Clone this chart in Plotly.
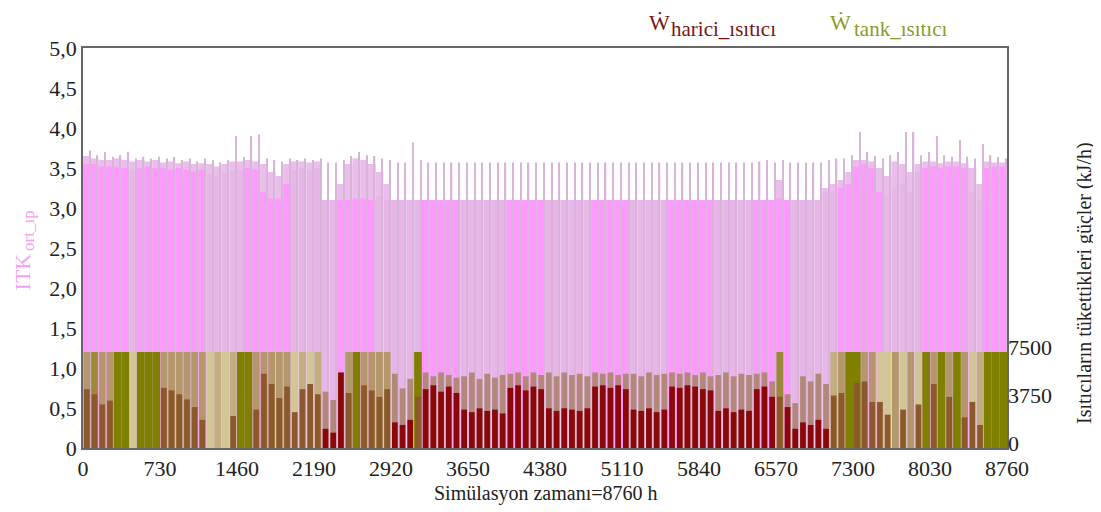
import plotly.graph_objects as go

# ---------------- data: one value per 73-hour bin (120 bins = 8760 h) ----------------
bin_hours = 73
time_bins = list(range(0, 8760, bin_hours))

x_tick_vals = [0, 730, 1460, 2190, 2920, 3650, 4380, 5110, 5840, 6570, 7300, 8030, 8760]
y_tick_vals = [0, 0.5, 1.0, 1.5, 2.0, 2.5, 3.0, 3.5, 4.0, 4.5, 5.0]
y_tick_text = ["0", "0,5", "1,0", "1,5", "2,0", "2,5", "3,0", "3,5", "4,0", "4,5", "5,0"]
y2_tick_vals = [0, 3750, 7500]

# ITK_ort_ip (COP) : solid level, ragged light envelope, thin peaks, share of running hours
cop_base = [
    3.55, 3.55, 3.52, 3.52, 3.52, 3.50, 3.48, 3.50, 3.52, 3.50,
    3.50, 3.48, 3.50, 3.48, 3.46, 3.48, 3.42, 3.40, 3.44, 3.46,
    3.48, 3.50, 3.48, 3.20, 3.12, 3.12, 3.30, 3.48, 3.50, 3.48,
    3.50, 3.10, 3.10, 3.10, 3.10, 3.12, 3.12, 3.10, 3.15, 3.10,
    3.10, 3.10, 3.10, 3.10, 3.10, 3.10, 3.10, 3.10, 3.10, 3.10,
    3.10, 3.10, 3.10, 3.10, 3.10, 3.10, 3.10, 3.10, 3.10, 3.10,
    3.10, 3.10, 3.10, 3.10, 3.10, 3.10, 3.10, 3.10, 3.10, 3.10,
    3.10, 3.10, 3.10, 3.10, 3.10, 3.10, 3.10, 3.10, 3.10, 3.10,
    3.10, 3.10, 3.10, 3.10, 3.10, 3.10, 3.10, 3.10, 3.10, 3.10,
    3.12, 3.10, 3.10, 3.10, 3.10, 3.10, 3.20, 3.22, 3.25, 3.30,
    3.52, 3.55, 3.50, 3.20, 3.15, 3.25, 3.30, 3.20, 3.45, 3.50,
    3.52, 3.50, 3.52, 3.52, 3.50, 3.20, 3.10, 3.50, 3.52, 3.52,
]
cop_cap = [
    3.65, 3.62, 3.60, 3.60, 3.62, 3.60, 3.58, 3.60, 3.58, 3.60,
    3.57, 3.58, 3.56, 3.58, 3.55, 3.56, 3.55, 3.52, 3.55, 3.58,
    3.58, 3.60, 3.58, 3.55, 3.45, 3.40, 3.55, 3.58, 3.58, 3.57,
    3.58, 3.10, 3.10, 3.30, 3.55, 3.62, 3.60, 3.55, 3.45, 3.30,
    3.10, 3.10, 3.10, 3.10, 3.10, 3.10, 3.10, 3.10, 3.10, 3.10,
    3.10, 3.10, 3.10, 3.10, 3.10, 3.10, 3.10, 3.10, 3.10, 3.10,
    3.10, 3.10, 3.10, 3.10, 3.10, 3.10, 3.10, 3.10, 3.10, 3.10,
    3.10, 3.10, 3.10, 3.10, 3.10, 3.10, 3.10, 3.10, 3.10, 3.10,
    3.10, 3.10, 3.10, 3.10, 3.10, 3.10, 3.10, 3.10, 3.10, 3.10,
    3.35, 3.10, 3.10, 3.10, 3.10, 3.10, 3.25, 3.30, 3.35, 3.45,
    3.60, 3.60, 3.58, 3.50, 3.40, 3.58, 3.55, 3.45, 3.55, 3.58,
    3.58, 3.56, 3.58, 3.58, 3.56, 3.50, 3.30, 3.58, 3.57, 3.57,
]
cop_spike = [
    3.72, 3.66, 3.70, 3.64, 3.66, 3.70, 3.62, 3.64, 3.62, 3.64,
    3.62, 3.64, 3.60, 3.62, 3.58, 3.62, 3.60, 3.57, 3.60, 3.90,
    3.64, 3.90, 3.92, 3.62, 3.60, 3.58, 3.62, 3.60, 3.62, 3.60,
    3.62, 3.57, 3.57, 3.60, 3.65, 3.70, 3.66, 3.65, 3.62, 3.60,
    3.57, 3.57, 3.82, 3.60, 3.57, 3.57, 3.57, 3.57, 3.57, 3.57,
    3.57, 3.57, 3.57, 3.57, 3.57, 3.57, 3.57, 3.57, 3.57, 3.57,
    3.57, 3.57, 3.57, 3.57, 3.57, 3.57, 3.57, 3.57, 3.57, 3.57,
    3.57, 3.57, 3.57, 3.57, 3.57, 3.57, 3.57, 3.57, 3.57, 3.57,
    3.57, 3.57, 3.57, 3.57, 3.57, 3.57, 3.57, 3.58, 3.60, 3.57,
    3.60, 3.57, 3.57, 3.57, 3.57, 3.57, 3.60, 3.62, 3.62, 3.66,
    3.95, 3.70, 3.65, 3.62, 3.66, 3.70, 3.95, 3.95, 3.66, 3.70,
    3.90, 3.66, 3.64, 3.85, 3.64, 3.62, 3.80, 3.66, 3.64, 3.62,
]
cop_duty = [
    1, 1, 1, 1, 1, 1, 0.5, 1, 1, 1,
    1, 1, 1, 1, 1, 1, 0.5, 0.5, 0.5, 0.5,
    0.5, 1, 1, 1, 1, 1, 1, 0.5, 0.5, 0.5,
    0.5, 0.5, 0.5, 1, 1, 1, 1, 1, 0.5, 0.5,
    0.5, 0.5, 0.5, 0.5, 1, 1, 1, 1, 1, 0.5,
    0.5, 0.5, 0.5, 0.5, 0.5, 1, 1, 1, 1, 1,
    0.5, 0.5, 0.5, 0.5, 0.5, 0.5, 1, 1, 1, 1,
    1, 0.5, 0.5, 0.5, 0.5, 0.5, 1, 1, 1, 1,
    1, 1, 0.5, 0.5, 0.5, 0.5, 0.5, 1, 1, 1,
    1, 1, 0.5, 0.5, 0.5, 0.5, 0.5, 0.5, 1, 1,
    1, 1, 1, 1, 0.5, 0.5, 0.5, 0.5, 0.5, 1,
    1, 1, 1, 1, 1, 0.5, 0.5, 1, 1, 1,
]

# tank heater (kJ/h): peak power and mean power in the bin
tank_peak = [
    7500, 7500, 7500, 7500, 7500, 7500, 7500, 7500, 7500, 7500,
    7500, 7500, 7500, 7500, 7500, 7500, 7500, 7500, 7500, 7500,
    7500, 7500, 7500, 7500, 7500, 7500, 7500, 7500, 7500, 7500,
    7500, 0, 0, 0, 7500, 7500, 7500, 7500, 7500, 7500,
    0, 0, 0, 7500, 0, 0, 0, 0, 0, 0,
    0, 0, 0, 0, 0, 0, 0, 0, 0, 0,
    0, 0, 0, 0, 0, 0, 0, 0, 0, 0,
    0, 0, 0, 0, 0, 0, 0, 0, 0, 0,
    0, 0, 0, 0, 0, 0, 0, 0, 0, 0,
    7500, 0, 0, 0, 0, 0, 0, 7500, 7500, 7500,
    7500, 7500, 7500, 7500, 7500, 7500, 7500, 7500, 7500, 7500,
    7500, 7500, 7500, 7500, 7500, 7500, 7500, 7500, 7500, 7500,
]
tank_mean = [
    4500, 6000, 4500, 4500, 7500, 7500, 2250, 7500, 7500, 7500,
    4500, 4500, 4500, 4500, 4500, 4500, 2250, 3400, 2250, 3400,
    7500, 7500, 4500, 4500, 4500, 4500, 4500, 2250, 3400, 2250,
    3400, 0, 0, 0, 4500, 7500, 4500, 4500, 4500, 4500,
    0, 0, 0, 7500, 0, 0, 0, 0, 0, 0,
    0, 0, 0, 0, 0, 0, 0, 0, 0, 0,
    0, 0, 0, 0, 0, 0, 0, 0, 0, 0,
    0, 0, 0, 0, 0, 0, 0, 0, 0, 0,
    0, 0, 0, 0, 0, 0, 0, 0, 0, 0,
    6000, 0, 0, 0, 0, 0, 0, 3400, 4500, 7500,
    7500, 4500, 4500, 2250, 2250, 4500, 2250, 4500, 2250, 7500,
    4500, 7500, 4500, 7500, 4500, 2250, 3400, 7500, 7500, 7500,
]

# external (harici) heater (kJ/h): peak power and mean power in the bin
harici_peak = [
    4600, 4200, 3400, 3700, 0, 0, 0, 0, 0, 0,
    4700, 4500, 4200, 3800, 3200, 2200, 0, 0, 0, 2500,
    0, 0, 3000, 5800, 5000, 3900, 4800, 2800, 4600, 5000,
    4200, 4400, 3750, 5900, 4300, 0, 4900, 4500, 4000, 4600,
    5800, 4650, 5400, 4000, 5900, 5600, 5900, 5700, 5500, 5600,
    5900, 5400, 5800, 5500, 5700, 5800, 5900, 5600, 5900, 5700,
    5900, 5600, 5900, 5700, 5800, 5600, 5900, 5800, 5900, 5700,
    5800, 5800, 5600, 5900, 5700, 5800, 5900, 5800, 5900, 5700,
    5900, 5600, 5700, 5900, 5600, 5800, 5700, 5800, 5900, 5200,
    4000, 4200, 3500, 5600, 5200, 5800, 5000, 4100, 4300, 0,
    5100, 5200, 3600, 3600, 2600, 0, 3000, 0, 3400, 0,
    5000, 0, 4000, 0, 2400, 3600, 1800, 0, 0, 0,
]
harici_mean = [
    0, 0, 0, 0, 0, 0, 0, 0, 0, 0,
    0, 0, 0, 0, 0, 0, 0, 0, 0, 0,
    0, 0, 0, 0, 0, 0, 0, 0, 0, 0,
    0, 1500, 1200, 5900, 0, 0, 0, 0, 0, 0,
    2000, 1800, 2200, 0, 4600, 4900, 4400, 4800, 4300, 3000,
    2800, 3100, 2900, 3000, 2700, 4700, 4900, 4500, 4800, 4600,
    3100, 2900, 3100, 3000, 2900, 3100, 4800, 4900, 4700, 4900,
    4600, 3000, 2900, 3100, 2800, 3000, 4800, 4700, 4900, 4800,
    4600, 4500, 2900, 3100, 2800, 3000, 2900, 4600, 4800, 4000,
    0, 3200, 1500, 2000, 1800, 2200, 1500, 0, 0, 0,
    0, 0, 0, 0, 0, 0, 0, 0, 0, 0,
    0, 0, 0, 0, 0, 0, 0, 0, 0, 0,
]

for name, arr in [("cop_base", cop_base), ("cop_cap", cop_cap), ("cop_spike", cop_spike),
                  ("cop_duty", cop_duty), ("tank_peak", tank_peak), ("tank_mean", tank_mean),
                  ("harici_peak", harici_peak), ("harici_mean", harici_mean)]:
    assert len(arr) == len(time_bins), (name, len(arr))

# ---------------- styling ----------------
PINK = (255, 153, 255)
PINK_LIGHT = (232, 181, 232)
CAP = (234, 190, 234)
SPIKE = (216, 180, 216)
OLIVE = (128, 128, 0)
TAN = (180, 152, 108)
PALE = (210, 198, 148)
BROWN = (140, 90, 42)
ROSE_BROWN = (178, 136, 122)
DARK_RED = (139, 8, 8)


def rgb(c):
    return "rgb(%d,%d,%d)" % c


def mix(a, b, t):
    t = max(0.0, min(1.0, t))
    return tuple(round(a[k] + (b[k] - a[k]) * t) for k in range(3))


def tank_col(p, m):
    f = m / p if p else 0
    if f >= 0.6:
        return rgb(mix(TAN, OLIVE, (f - 0.6) / 0.4))
    return rgb(mix(PALE, TAN, (f - 0.3) / 0.3))


centers = [b + bin_hours / 2 for b in time_bins]
spike_x = [c + 27 for c in centers]

fig = go.Figure()

fig.add_trace(go.Bar(x=centers, y=cop_cap, width=bin_hours,
                     marker=dict(color=rgb(CAP), line=dict(width=0)), hoverinfo="skip"))
fig.add_trace(go.Bar(x=centers, y=cop_base,
                     width=[bin_hours if d >= 1 else 62 for d in cop_duty],
                     marker=dict(color=[rgb(PINK) if d >= 1 else rgb(PINK_LIGHT) for d in cop_duty],
                                 line=dict(width=0)), hoverinfo="skip"))
fig.add_trace(go.Bar(x=spike_x, y=cop_spike, width=13,
                     marker=dict(color=rgb(SPIKE), line=dict(width=0)), hoverinfo="skip"))

fig.add_trace(go.Bar(x=centers, y=tank_peak, yaxis="y2",
                     width=[bin_hours if (p and m / p >= 0.99) else 64 for p, m in zip(tank_peak, tank_mean)],
                     marker=dict(color=[tank_col(p, m) for p, m in zip(tank_peak, tank_mean)],
                                 line=dict(width=0)), hoverinfo="skip"))
fig.add_trace(go.Bar(x=centers, y=harici_peak, yaxis="y2", width=54,
                     marker=dict(color=[rgb(BROWN) if t > 0 else rgb(ROSE_BROWN) for t in tank_peak],
                                 line=dict(width=0)), hoverinfo="skip"))
fig.add_trace(go.Bar(x=centers, y=harici_mean, yaxis="y2", width=54,
                     marker=dict(color=rgb(DARK_RED), line=dict(width=0)), hoverinfo="skip"))

SERIF = "Liberation Serif, Times New Roman, serif"
TICKFONT = dict(family=SERIF, size=22, color="#222222")
ITK_PINK = "#F5A0F0"

fig.update_layout(
    width=1092, height=503,
    margin=dict(l=75, r=93, t=40, b=63),
    plot_bgcolor="white", paper_bgcolor="white",
    barmode="overlay", showlegend=False,
    font=dict(family=SERIF, size=20, color="#222222"),
    xaxis=dict(range=[0, 8760], tickvals=x_tick_vals, ticktext=[str(v) for v in x_tick_vals],
               tickfont=TICKFONT,
               showgrid=False, zeroline=False, showline=True, linecolor="#666666",
               linewidth=1.5, mirror=True, ticks=""),
    yaxis=dict(range=[0, 5], tickvals=y_tick_vals, ticktext=y_tick_text, tickfont=TICKFONT,
               showgrid=False, zeroline=False, showline=True, linecolor="#666666",
               linewidth=1.5, mirror=True, ticks=""),
    yaxis2=dict(overlaying="y", side="right", range=[0, 7500 * 5 / 1.2],
                tickvals=y2_tick_vals, ticktext=[str(v) for v in y2_tick_vals],
                tickfont=TICKFONT, ticklabelshift=-5,
                showgrid=False, zeroline=False, showline=False, ticks=""),
    annotations=[
        dict(text="Simülasyon zamanı=8760 h", x=0.5, y=-0.1125, xref="paper", yref="paper",
             showarrow=False, xanchor="center", yanchor="middle", font=dict(size=20, color="#222222")),
        dict(text="ITK", x=-0.066, y=0.439, xref="paper", yref="paper",
             showarrow=False, textangle=-90, xanchor="center", yanchor="middle",
             font=dict(size=22, color=ITK_PINK)),
        dict(text="ort_ıp", x=-0.0585, y=0.545, xref="paper", yref="paper",
             showarrow=False, textangle=-90, xanchor="center", yanchor="middle",
             font=dict(size=17, color=ITK_PINK)),
        dict(text="Isıtıcıların tükettikleri güçler (kJ/h)", x=1.0833, y=0.4125,
             xref="paper", yref="paper", showarrow=False, textangle=-90,
             xanchor="center", yanchor="middle", font=dict(size=20, color="#222222")),
        dict(text="Ẇ", x=0.6234, y=1.065, xref="paper", yref="paper", showarrow=False,
             xanchor="center", yanchor="middle", font=dict(size=22, color="#7A1414")),
        dict(text="harici_ısıtıcı", x=0.6342, y=1.0475, xref="paper", yref="paper", showarrow=False,
             xanchor="left", yanchor="middle", font=dict(size=21, color="#7A1414")),
        dict(text="Ẇ", x=0.8203, y=1.065, xref="paper", yref="paper", showarrow=False,
             xanchor="center", yanchor="middle", font=dict(size=22, color="#8E9A2E")),
        dict(text="tank_ısıtıcı", x=0.8323, y=1.0475, xref="paper", yref="paper", showarrow=False,
             xanchor="left", yanchor="middle", font=dict(size=21, color="#8E9A2E")),
    ],
)

fig.write_html("out.html")
